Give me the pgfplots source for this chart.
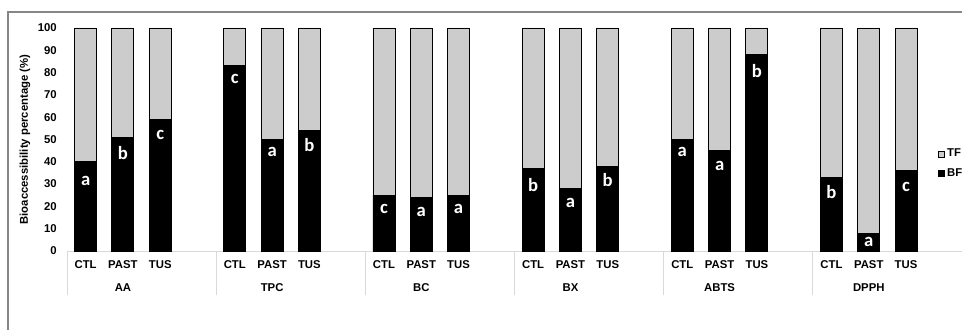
\documentclass[border=0pt]{standalone}
\usepackage{fontspec}
\setmainfont{Liberation Sans}
\newfontfamily\carlito{Carlito}
\usepackage{pgfplots}
\usepackage{pgfplotstable}
\pgfplotsset{compat=1.18}
\definecolor{tfgray}{HTML}{CCCCCC}
\definecolor{axgray}{HTML}{D9D9D9}
\definecolor{framegray}{HTML}{868686}
\pgfplotsset{sqleg/.style={legend image code/.code={\draw[##1, draw=black, line width=0.4pt] (0pt,-2.2pt) rectangle (4.4pt,2.2pt);}}}

\pgfplotstableread{
x  BF TF ly   lab
0  40 60 31.4 a
1  51 49 44.1 b
2  59 41 52.0 c
4  83 17 77.1 c
5  50 50 44.3 a
6  54 46 47.5 b
8  25 75 18.8 c
9  24 76 17.6 a
10 25 75 18.8 a
12 37 63 29.6 b
13 28 72 21.4 a
14 38 62 31.8 b
16 50 50 44.3 a
17 45 55 38.3 a
18 88 12 80.7 b
20 33 67 26.3 b
21 8  92 4.2  a
22 36 64 28.8 c
}\datatable

\newcommand{\lblfont}{\fontsize{8.5}{10}\selectfont\bfseries}

\begin{document}
\begin{tikzpicture}
\path[use as bounding box] (0,0) rectangle (721.5pt,246.75pt);
\begin{scope}
\clip (0,0) rectangle (721.5pt,246.75pt);
\draw[framegray, line width=1.1pt] (6pt,-2pt) -- (6pt,237.75pt) -- (725pt,237.75pt);
\begin{axis}[
  at={(50.25pt,58.5pt)}, anchor=south west,
  scale only axis, width=671.25pt, height=167.25pt,
  xmin=-0.5, xmax=23.5, ymin=0, ymax=100,
  ybar stacked, bar width=16.5pt,
  axis x line*=bottom, axis y line*=left,
  x axis line style={draw=axgray, line width=0.75pt, -},
  y axis line style={draw=none, -},
  ytick={0,10,...,100},
  xtick={0,1,2,4,5,6,8,9,10,12,13,14,16,17,18,20,21,22},
  xticklabels={CTL,PAST,TUS,CTL,PAST,TUS,CTL,PAST,TUS,CTL,PAST,TUS,CTL,PAST,TUS,CTL,PAST,TUS},
  major tick length=0pt,
  tick style={draw=none},
  /pgf/number format/assume math mode=true,
  ticklabel style={font=\lblfont},
  yticklabel style={inner sep=0pt, xshift=-7.5pt},
  xticklabel style={inner sep=0pt, yshift=-7.3pt},
  ylabel={Bioaccessibility percentage (\%)},
  every axis y label/.style={at={(axis description cs:-0.0469,0.5)}, rotate=90, anchor=center, font=\lblfont},
  clip=false,
  reverse legend,
  legend style={at={(axis description cs:0.973,0.47)}, anchor=north west, draw=none, fill=none,
    font=\lblfont, inner sep=0pt, row sep=3pt, legend cell align=left,
    /tikz/every even column/.append style={column sep=1pt}},
]
\addplot[fill=black, draw=black, line width=0.7pt, sqleg]
  table[x=x, y=BF]{\datatable};
\addlegendentry{BF}
\addplot[fill=tfgray, draw=black, line width=0.7pt, sqleg]
  table[x=x, y=TF]{\datatable};
\addlegendentry{TF}
\draw[axgray, line width=0.75pt] (axis cs:-0.5,0) -- (axis cs:-0.5,-19.7);
\draw[axgray, line width=0.75pt] (axis cs:3.5,0) -- (axis cs:3.5,-19.7);
\draw[axgray, line width=0.75pt] (axis cs:7.5,0) -- (axis cs:7.5,-19.7);
\draw[axgray, line width=0.75pt] (axis cs:11.5,0) -- (axis cs:11.5,-19.7);
\draw[axgray, line width=0.75pt] (axis cs:15.5,0) -- (axis cs:15.5,-19.7);
\draw[axgray, line width=0.75pt] (axis cs:19.5,0) -- (axis cs:19.5,-19.7);
\node[font=\lblfont] at (axis cs:1,-16.3) {AA};
\node[font=\lblfont] at (axis cs:5,-16.3) {TPC};
\node[font=\lblfont] at (axis cs:9,-16.3) {BC};
\node[font=\lblfont] at (axis cs:13,-16.3) {BX};
\node[font=\lblfont] at (axis cs:17,-16.3) {ABTS};
\node[font=\lblfont] at (axis cs:21,-16.3) {DPPH};
\end{axis}
\begin{axis}[
  at={(50.25pt,58.5pt)}, anchor=south west,
  scale only axis, width=671.25pt, height=167.25pt,
  xmin=-0.5, xmax=23.5, ymin=0, ymax=100,
  hide axis, clip=false,
]
\addplot[draw=none, mark=none, nodes near coords, point meta=explicit symbolic,
  every node near coord/.append style={anchor=center, text=white, inner sep=0pt,
    font=\fontsize{14}{16}\selectfont\carlito\bfseries}]
  table[x=x, y=ly, meta=lab]{\datatable};
\end{axis}
\end{scope}
\end{tikzpicture}
\end{document}
